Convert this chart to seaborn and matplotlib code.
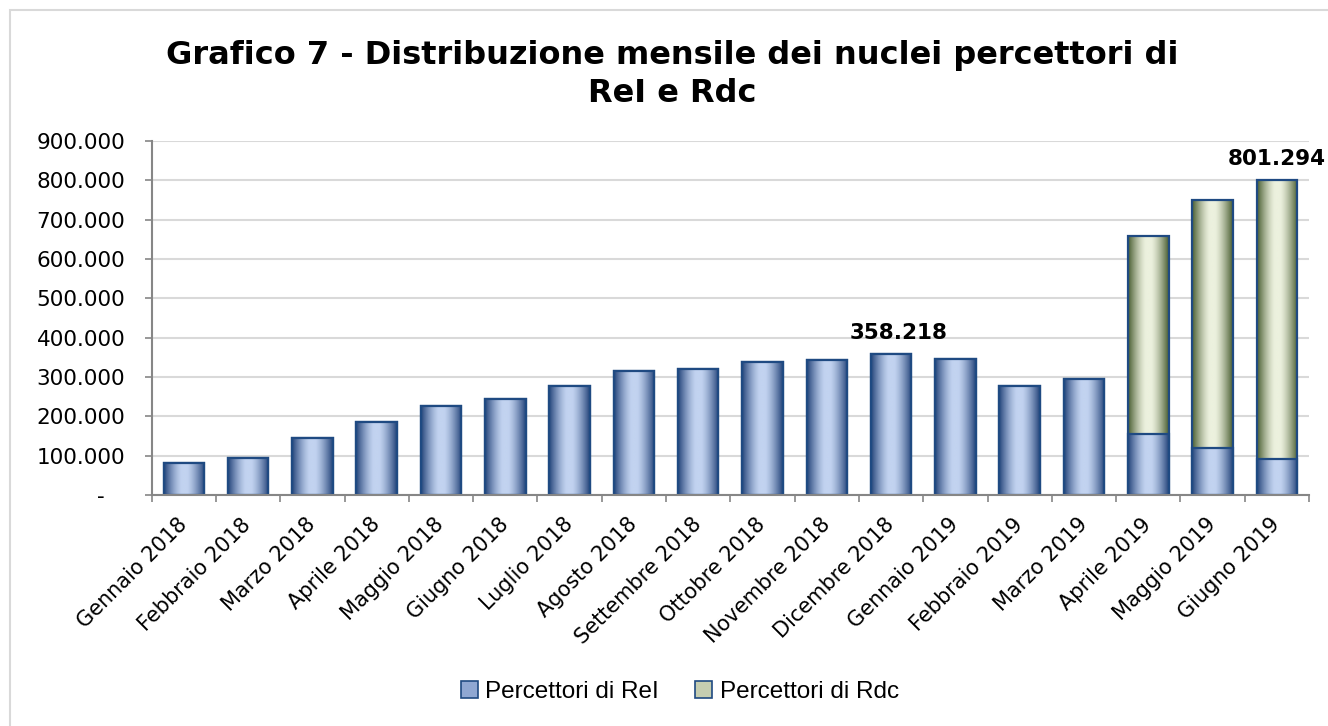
"""
Grafico 7 - nuclei percettori di ReI e Rdc, barre impilate mensili
"""

import numpy as np
import pandas as pd
import matplotlib
matplotlib.use("Agg")
import matplotlib.pyplot as plt
import seaborn as sns
from matplotlib.colors import LinearSegmentedColormap
from matplotlib.patches import Patch, Rectangle
from matplotlib.ticker import FuncFormatter, FixedLocator

# --- dati ---
mesi = [
    "Gennaio 2018", "Febbraio 2018", "Marzo 2018", "Aprile 2018",
    "Maggio 2018", "Giugno 2018", "Luglio 2018", "Agosto 2018",
    "Settembre 2018", "Ottobre 2018", "Novembre 2018", "Dicembre 2018",
    "Gennaio 2019", "Febbraio 2019", "Marzo 2019", "Aprile 2019",
    "Maggio 2019", "Giugno 2019",
]
rei = [82000, 94000, 145000, 185000, 226000, 245000, 278000, 316000,
       321000, 337000, 344000, 358218, 347000, 278000, 295000, 155000,
       119000, 92000]
rdc = [0, 0, 0, 0, 0, 0, 0, 0, 0, 0, 0, 0, 0, 0, 0, 504000, 630000, 709294]
etichette = {11: "358.218", 17: "801.294"}
y_ticks = [0, 100000, 200000, 300000, 400000, 500000, 600000, 700000,
           800000, 900000]

df = pd.DataFrame({"mese": mesi, "rei": rei, "rdc": rdc})
df["totale"] = df["rei"] + df["rdc"]

BLU_CHIARO, BLU_SCURO = "#C2D3F0", "#24447A"
VERDE_CHIARO, VERDE_SCURO = "#ECF1DE", "#485C30"
BORDO = "#1F4A82"

sns.set_theme(style="white")
plt.rcParams["font.family"] = ["DejaVu Sans"]
plt.rcParams["text.color"] = "black"

fig = plt.figure(figsize=(13.28, 7.26), dpi=100)
ax = fig.add_axes([151.7 / 1328, 1 - 495 / 726, (1309 - 151.7) / 1328,
                   (495 - 141) / 726])

sns.barplot(data=df, x="mese", y="totale", color=VERDE_CHIARO, width=0.63,
            saturation=1, edgecolor=BORDO, linewidth=1.6, ax=ax)
sns.barplot(data=df, x="mese", y="rei", color=BLU_CHIARO, width=0.63,
            saturation=1, edgecolor=BORDO, linewidth=1.6, ax=ax)


def gradiente(chiaro, scuro):
    return LinearSegmentedColormap.from_list("g", [chiaro, scuro])


u = np.linspace(0, 1, 256)
d = np.abs(u - 0.5) / 0.5
prof = (np.clip((d - 0.12) / 0.88, 0, 1) ** 1.4)[None, :]

n = len(mesi)
cmap_v = gradiente(VERDE_CHIARO, VERDE_SCURO)
cmap_b = gradiente(BLU_CHIARO, BLU_SCURO)
for i, p in enumerate(ax.patches):
    if p.get_height() <= 0:
        continue
    verde = i < n
    z = 2.0 if verde else 2.2
    x0, y0 = p.get_x(), p.get_y()
    w, h = p.get_width(), p.get_height()
    im = ax.imshow(prof, cmap=cmap_v if verde else cmap_b, aspect="auto",
                   extent=[x0, x0 + w, y0, y0 + h], zorder=z,
                   interpolation="bilinear")
    im.set_clip_path(p)
    p.set_facecolor("none")
    p.set_zorder(z + 0.1)

ax.set_xlim(-0.5, n - 0.5)
ax.set_ylim(0, 900000)

# griglia e assi
ax.yaxis.set_major_locator(FixedLocator(y_ticks))
ax.yaxis.set_major_formatter(FuncFormatter(
    lambda v, _: "-   " if v == 0 else f"{int(v):,}".replace(",", ".")))
ax.grid(axis="y", color="#D9D9D9", lw=1.5, zorder=0.5)
ax.set_axisbelow(True)
for s in ["top", "right"]:
    ax.spines[s].set_visible(False)
for s in ["left", "bottom"]:
    ax.spines[s].set_color("#868686")
    ax.spines[s].set_linewidth(1.5)

ax.tick_params(axis="y", left=True, length=5, width=1.2, color="#868686",
               pad=14, labelsize=15.5, labelcolor="black")
ax.set_xticks(np.arange(n))
ax.set_xticks(np.arange(n + 1) - 0.5, minor=True)
ax.tick_params(axis="x", which="minor", bottom=True, length=5, width=1.2,
               color="#868686")
ax.tick_params(axis="x", which="major", length=0, pad=19, labelcolor="black")
ax.set_xticklabels(mesi, rotation=45, ha="right", va="center",
                   rotation_mode="anchor", fontsize=15)
ax.set_xlabel("")
ax.set_ylabel("")

# etichette valori
for i, txt in etichette.items():
    dx = 8 if i < n - 1 else 0
    ax.annotate(txt, (i, df["totale"][i]), xytext=(dx, 21),
                textcoords="offset pixels", ha="center", va="center",
                fontsize=15.5, fontweight="bold", annotation_clip=False)

fig.text(0.506, 0.897,
         "Grafico 7 - Distribuzione mensile dei nuclei percettori di\nReI e Rdc",
         ha="center", va="center", fontsize=23, fontweight="bold",
         linespacing=1.3)

handles = [
    Patch(facecolor="#8FA7D2", edgecolor=BORDO, lw=1.2, label="Percettori di ReI"),
    Patch(facecolor="#C5CDB0", edgecolor=BORDO, lw=1.2, label="Percettori di Rdc"),
]
fig.legend(handles=handles, loc="center", bbox_to_anchor=(0.512, 0.047),
           ncol=2, frameon=False, handlelength=0.7, handleheight=0.7,
           handletextpad=0.3, columnspacing=1.5,
           prop={"family": "Liberation Sans", "size": 17.5})

fig.patches.append(Rectangle((10 / 1328, -0.5), 2, 1 - 10 / 726 + 0.5,
                             transform=fig.transFigure, fill=False,
                             edgecolor="#D9D9D9", lw=1.5, zorder=-1))

fig.savefig("out.png", dpi=100, facecolor="white")
plt.close(fig)
